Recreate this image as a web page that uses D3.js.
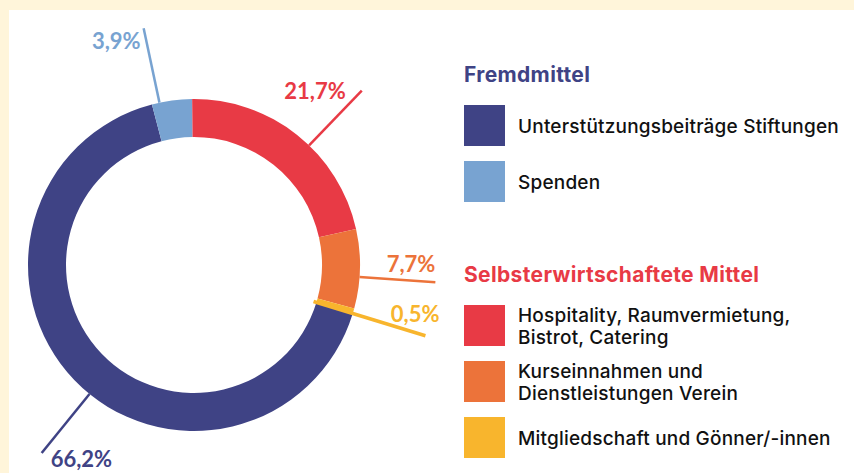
<!DOCTYPE html>
<html>
<head>
<meta charset="utf-8">
<script src="https://cdn.jsdelivr.net/npm/d3@7"></script>
<style>
  html, body { margin: 0; padding: 0; background: #fff5da; }
  #chart { width: 854px; height: 473px; }
</style>
</head>
<body>
<div id="chart"></div>
<script>
// Finanzierung – Anteile in Prozent
const categories = [
    ['Unterstützungsbeiträge Stiftungen'],
    ['Spenden'],
    ['Hospitality, Raumvermietung,', 'Bistrot, Catering'],
    ['Kurseinnahmen und', 'Dienstleistungen Verein'],
    ['Mitgliedschaft und Gönner/-innen']
];
const values = [66.2, 3.9, 21.7, 7.7, 0.5];
const valueLabels = ['66,2%', '3,9%', '21,7%', '7,7%', '0,5%'];
const colors = ['#3f4385', '#78a3d1', '#e83a45', '#ec733a', '#f8b52d'];
const groupNames = ['Fremdmittel', 'Selbsterwirtschaftete Mittel'];
const groupColors = ['#3f4385', '#e83a45'];
const groupOf = [0, 0, 1, 1, 1];

// leader line: where along the slice it sits (0..1), label offset from its end
const labelLayout = [
    { at: 0.47, anchor: 'start', dx: 9, dy: 14, fromInner: false },
    { at: 0.19, anchor: 'end', dx: -3, dy: 21, fromInner: false },
    { at: 0.57, anchor: 'end', dx: -16, dy: 8, fromInner: false },
    { at: 0.60, anchor: 'end', dx: 0, dy: -10, fromInner: false },
    { at: 1.00, anchor: 'end', dx: 14, dy: -14, fromInner: true }
];

const width = 854, height = 473;
const cx = 194, cy = 265;
const outerR = 166, innerR = 128, lineR = 242;

const svg = d3.select('#chart')
    .append('svg')
    .attr('width', width)
    .attr('height', height);

// white panel on cream frame
svg.append('rect')
    .attr('x', 9).attr('y', 10)
    .attr('width', width - 9).attr('height', height - 10)
    .attr('fill', '#ffffff');

const g = svg.append('g')
    .attr('transform', `translate(${cx},${cy})`);

const startAngle = 107 * Math.PI / 180;
const pie = d3.pie()
    .value(d => d)
    .sort(null)
    .startAngle(startAngle)
    .endAngle(startAngle + 2 * Math.PI);

const arc = d3.arc()
    .innerRadius(innerR)
    .outerRadius(outerR);

const arcs = pie(values);

g.selectAll('.slice')
    .data(arcs)
    .enter()
    .append('path')
    .attr('class', 'slice')
    .attr('d', arc)
    .attr('fill', (d, i) => colors[i]);

// leader lines + percentages
const polar = (a, r) => [Math.sin(a) * r, -Math.cos(a) * r];

arcs.forEach((d, i) => {
    const lay = labelLayout[i];
    const a = d.startAngle + (d.endAngle - d.startAngle) * lay.at;
    const p1 = polar(a, lay.fromInner ? innerR - 3 : outerR);
    const p2 = polar(a, lineR);

    g.append('line')
        .attr('x1', p1[0]).attr('y1', p1[1])
        .attr('x2', p2[0]).attr('y2', p2[1])
        .attr('stroke', colors[i])
        .attr('stroke-width', lay.fromInner ? 3.5 : 2.5);

    g.append('text')
        .attr('x', p2[0] + lay.dx)
        .attr('y', p2[1] + lay.dy)
        .attr('text-anchor', lay.anchor)
        .style('font-family', 'Lato, sans-serif')
        .style('font-size', '22px')
        .style('font-weight', 'bold')
        .style('fill', colors[i])
        .text(valueLabels[i]);
});

// legend
const legend = svg.append('g')
    .attr('transform', 'translate(464, 0)');

const sw = 41, step = 56, textX = 54;
let y = 82;
groupNames.forEach((name, gi) => {
    legend.append('text')
        .attr('x', 0)
        .attr('y', y)
        .style('font-family', 'Inter, sans-serif')
        .style('font-size', '21px')
        .style('font-weight', 'bold')
        .style('letter-spacing', '0.35px')
        .style('fill', groupColors[gi])
        .text(name);

    let top = y + 23;
    categories.forEach((lines, i) => {
        if (groupOf[i] !== gi) return;
        legend.append('rect')
            .attr('x', 0).attr('y', top)
            .attr('width', sw).attr('height', sw)
            .attr('fill', colors[i]);

        const t = legend.append('text')
            .attr('x', textX)
            .style('font-family', 'Inter, sans-serif')
            .style('font-size', '19px')
            .style('font-weight', 500)
            .style('letter-spacing', '0.2px')
            .style('fill', '#111');
        const base = top + sw / 2 + 7 - (lines.length - 1) * 11;
        lines.forEach((ln, k) => {
            t.append('tspan')
                .attr('x', textX)
                .attr('y', base + k * 22)
                .text(ln);
        });
        top += step;
    });
    y += 200;
});
</script>
</body>
</html>
